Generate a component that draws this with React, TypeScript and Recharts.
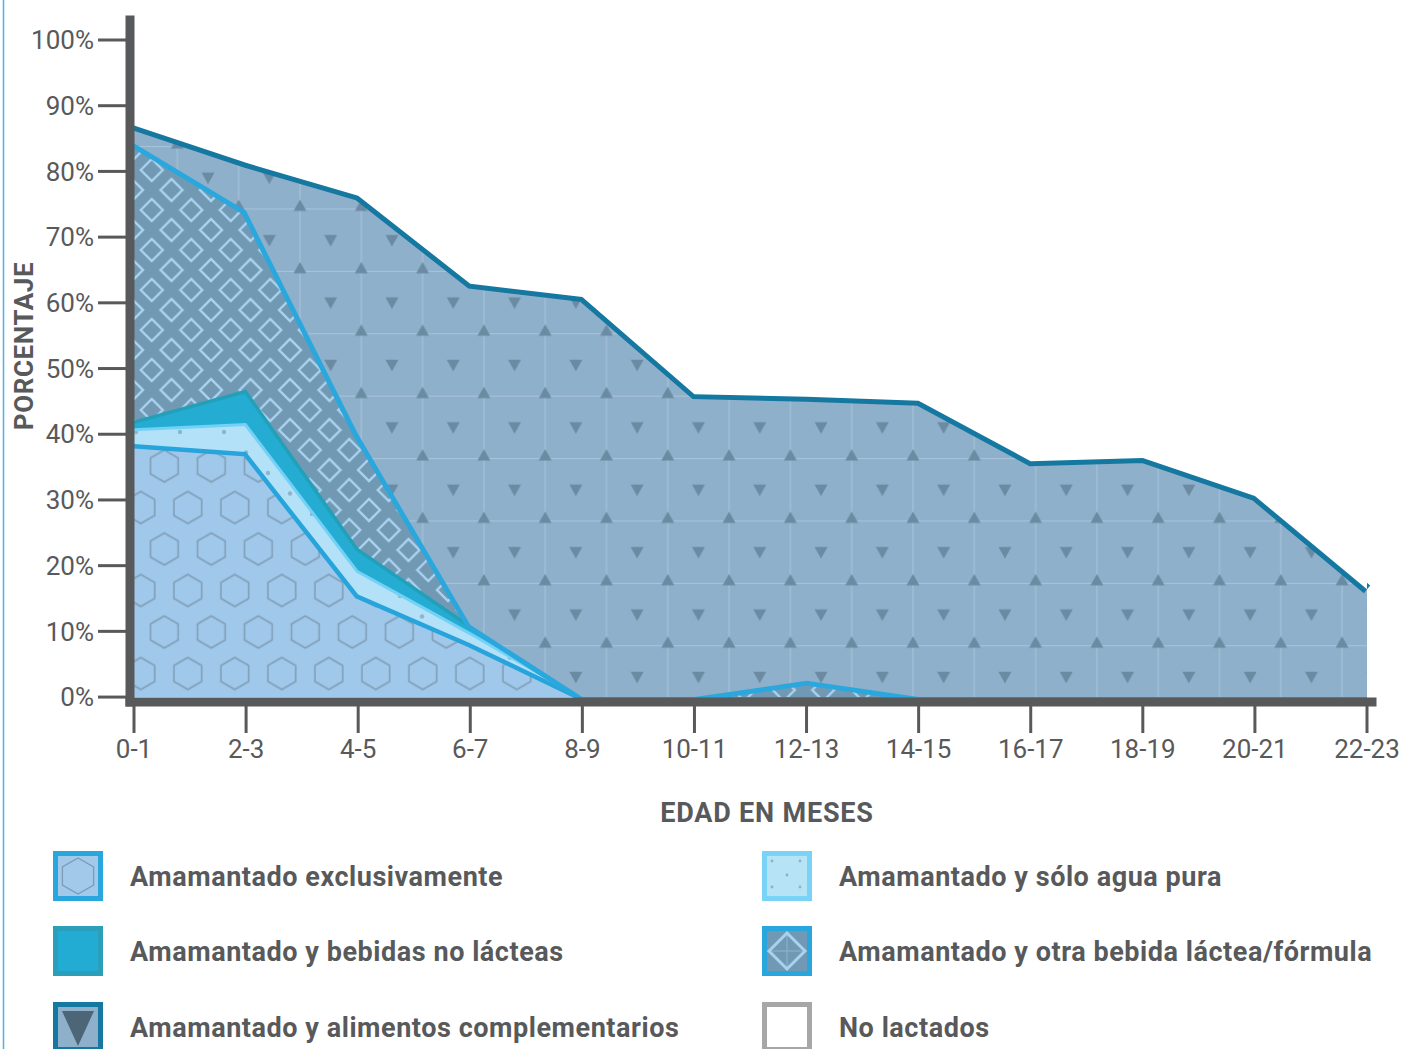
import React from 'react'
import { Area, AreaChart, XAxis, YAxis } from 'recharts'

const ages = ['0-1', '2-3', '4-5', '6-7', '8-9', '10-11', '12-13', '14-15', '16-17', '18-19', '20-21', '22-23']

// percentages per age band, bottom of the stack first
const exclusivo = [38.5, 37.3, 15.6, 8.2, 0, 0, 0, 0, 0, 0, 0, 0]
const soloAgua = [2.4, 4.4, 3.7, 1.7, 0, 0, 0, 0, 0, 0, 0, 0]
const noLacteas = [1.2, 5.1, 3.4, 1.1, 0, 0, 0, 0, 0, 0, 0, 0]
const formula = [42.2, 27.2, 17.3, 0, 0, 0, 2.5, 0, 0, 0, 0, 0]
const complementarios = [2.7, 7.3, 36.3, 51.9, 60.9, 46.1, 43.2, 45.1, 35.9, 36.4, 30.6, 16.4]
const noLactados = [13, 18.7, 23.7, 37.1, 39.1, 53.9, 54.3, 54.9, 64.1, 63.6, 69.4, 83.6]

const yTicks = [0, 10, 20, 30, 40, 50, 60, 70, 80, 90, 100]

const data = ages.map((age, i) => ({
  age,
  exclusivo: exclusivo[i],
  soloAgua: soloAgua[i],
  noLacteas: noLacteas[i],
  formula: formula[i],
  complementarios: complementarios[i],
  noLactados: noLactados[i],
}))

const GREY = '#58595b'
const FONT = 'Roboto, "Liberation Sans", sans-serif'

const hexPoints = (cx: number, cy: number, r: number) =>
  [0, 1, 2, 3, 4, 5]
    .map((k) => {
      const a = (Math.PI / 3) * k - Math.PI / 2
      return `${cx + r * Math.cos(a)},${cy + r * Math.sin(a)}`
    })
    .join(' ')

const up = (cx: number, cy: number) => `${cx},${cy - 6.5} ${cx - 6.5},${cy + 5} ${cx + 6.5},${cy + 5}`
const down = (cx: number, cy: number) => `${cx - 6.5},${cy - 5} ${cx + 6.5},${cy - 5} ${cx},${cy + 6.5}`
const diamond = (cx: number, cy: number, h: number) => `${cx - h},${cy} ${cx},${cy - h} ${cx + h},${cy} ${cx},${cy + h}`

function Patterns() {
  const TW = 61.3
  const TH = 62.4
  return (
    <svg width={0} height={0} style={{ position: 'absolute' }}>
      <defs>
        <pattern id="pat-hex" patternUnits="userSpaceOnUse" x={140.8} y={424.5} width={47} height={83}>
          <rect width={47} height={83} fill="#a0c8ea" />
          {[[0, 0], [47, 0], [0, 83], [47, 83], [23.5, 41.5]].map(([cx, cy], i) => (
            <polygon key={i} points={hexPoints(cx, cy, 16)} fill="none" stroke="#809fb7" strokeWidth={1.6} />
          ))}
        </pattern>
        <pattern id="pat-dots" patternUnits="userSpaceOnUse" x={180} y={432} width={44} height={41}>
          <rect width={44} height={41} fill="#b3e1f7" />
          <circle cx={0} cy={0} r={2.2} fill="#8fb5ca" />
          <circle cx={44} cy={0} r={2.2} fill="#8fb5ca" />
          <circle cx={0} cy={41} r={2.2} fill="#8fb5ca" />
          <circle cx={44} cy={41} r={2.2} fill="#8fb5ca" />
          <circle cx={22} cy={20.5} r={2.2} fill="#8fb5ca" />
        </pattern>
        <pattern id="pat-diamond" patternUnits="userSpaceOnUse" x={132} y={350} width={39.5} height={40}>
          <rect width={39.5} height={40} fill="#7199b3" />
          {[[0, 0], [39.5, 0], [0, 40], [39.5, 40], [19.75, 20]].map(([cx, cy], i) => (
            <polygon key={i} points={diamond(cx, cy, 11)} fill="none" stroke="#a8d2ef" strokeWidth={2.4} />
          ))}
        </pattern>
        <pattern id="pat-tri" patternUnits="userSpaceOnUse" x={269.35} y={174.8} width={TW} height={TH}>
          <rect width={TW} height={TH} fill="#8fb0cb" />
          <line x1={TW / 2} y1={0} x2={TW / 2} y2={TH} stroke="#a9c4da" strokeWidth={1} />
          <line x1={0} y1={TH / 2 + 3} x2={TW} y2={TH / 2 + 3} stroke="#a9c4da" strokeWidth={1} />
          <polygon points={up(TW / 2, TH / 2)} fill="#6b8ba3" />
          {[[0, 2.8], [TW, 2.8], [0, 2.8 + TH], [TW, 2.8 + TH]].map(([cx, cy], i) => (
            <polygon key={i} points={down(cx, cy)} fill="#6b8ba3" />
          ))}
        </pattern>
      </defs>
    </svg>
  )
}

type Swatch = 'hex' | 'teal' | 'tri' | 'dots' | 'diamond' | 'empty'

const legendItems: { label: string; kind: Swatch; x: number; y: number }[] = [
  { label: 'Amamantado exclusivamente', kind: 'hex', x: 53, y: 851 },
  { label: 'Amamantado y bebidas no lácteas', kind: 'teal', x: 53, y: 926 },
  { label: 'Amamantado y alimentos complementarios', kind: 'tri', x: 53, y: 1002 },
  { label: 'Amamantado y sólo agua pura', kind: 'dots', x: 762, y: 851 },
  { label: 'Amamantado y otra bebida láctea/fórmula', kind: 'diamond', x: 762, y: 926 },
  { label: 'No lactados', kind: 'empty', x: 762, y: 1002 },
]

function SwatchBox({ kind, x, y }: { kind: Swatch; x: number; y: number }) {
  const border: Record<Swatch, string> = {
    hex: '#29a6dd',
    teal: '#2b9fba',
    tri: '#1478a1',
    dots: '#78d3f7',
    diamond: '#29a6dd',
    empty: '#a7a7a7',
  }
  const inner: Record<Swatch, string> = {
    hex: '#a2c9ea',
    teal: '#23acd3',
    tri: '#8fb0cb',
    dots: '#b7e3f7',
    diamond: '#7199b3',
    empty: '#ffffff',
  }
  return (
    <g transform={`translate(${x},${y})`}>
      <rect x={0} y={0} width={50} height={50} fill={border[kind]} />
      <rect x={5} y={5} width={40} height={40} fill={inner[kind]} />
      {kind === 'hex' && <polygon points={hexPoints(25, 25, 18)} fill="none" stroke="#7d9cb4" strokeWidth={1.3} />}
      {kind === 'tri' && <polygon points="9,9 41,9 25,44" fill="#4c6678" />}
      {kind === 'diamond' && (
        <>
          <line x1={25} y1={5} x2={25} y2={45} stroke="#8fb5cc" strokeWidth={1} />
          <line x1={5} y1={25} x2={45} y2={25} stroke="#8fb5cc" strokeWidth={1} />
          <polygon points={diamond(25, 25, 18)} fill="none" stroke="#a8d2ef" strokeWidth={3} />
        </>
      )}
      {kind === 'dots' &&
        [[10, 10], [38, 10], [25, 24], [10, 36], [38, 36]].map(([cx, cy], i) => (
          <circle key={i} cx={cx} cy={cy} r={1.4} fill="#8fb0c3" />
        ))}
    </g>
  )
}

function Overlay() {
  return (
    <svg width={1403} height={1049} style={{ position: 'absolute', left: 0, top: 0, pointerEvents: 'none' }}>
      <line x1={3.5} y1={0} x2={3.5} y2={1049} stroke="#4ab4e4" strokeWidth={1.5} />
      <text x={767} y={822} textAnchor="middle" fill={GREY} fontFamily={FONT} fontWeight={700} fontSize={27} letterSpacing={0.8}>
        EDAD EN MESES
      </text>
      <text
        transform="translate(33.3,346) rotate(-90)"
        textAnchor="middle"
        fill={GREY}
        fontFamily={FONT}
        fontWeight={700}
        fontSize={26}
        letterSpacing={0.6}
      >
        PORCENTAJE
      </text>
      {legendItems.map((it) => (
        <g key={it.label}>
          <SwatchBox kind={it.kind} x={it.x} y={it.y} />
          <text x={it.x + 77} y={it.y + 35} fill={GREY} fontFamily={FONT} fontWeight={700} fontSize={27} letterSpacing={0.55}>
            {it.label}
          </text>
        </g>
      ))}
    </svg>
  )
}

export default function App() {
  return (
    <div style={{ position: 'absolute', left: 0, top: 0, width: 1403, height: 1049, background: '#fff' }}>
      <Patterns />
      <AreaChart width={1403} height={780} data={data} margin={{ top: 20, right: 31, left: 0, bottom: 18 }}>
        <Area type="linear" dataKey="exclusivo" stackId="s" fill="url(#pat-hex)" fillOpacity={1} stroke="#27a4dc" strokeWidth={9} dot={false} activeDot={false} isAnimationActive={false} />
        <Area type="linear" dataKey="soloAgua" stackId="s" fill="url(#pat-dots)" fillOpacity={1} stroke="#74d1f6" strokeWidth={6} dot={false} activeDot={false} isAnimationActive={false} />
        <Area type="linear" dataKey="noLacteas" stackId="s" fill="#24acd2" fillOpacity={1} stroke="#22a0ba" strokeWidth={7} dot={false} activeDot={false} isAnimationActive={false} />
        <Area type="linear" dataKey="formula" stackId="s" fill="url(#pat-diamond)" fillOpacity={1} stroke="#2aa8de" strokeWidth={10} dot={false} activeDot={false} isAnimationActive={false} />
        <Area type="linear" dataKey="complementarios" stackId="s" fill="url(#pat-tri)" fillOpacity={1} stroke="#1478a0" strokeWidth={10} dot={false} activeDot={false} isAnimationActive={false} />
        <Area type="linear" dataKey="noLactados" stackId="s" fill="#ffffff" fillOpacity={1} stroke="none" dot={false} activeDot={false} isAnimationActive={false} />
        <XAxis
          dataKey="age"
          height={60}
          interval={0}
          padding={{ left: 4, right: 5 }}
          tickSize={31}
          tickMargin={7}
          tickLine={{ stroke: GREY, strokeWidth: 3 }}
          axisLine={{ stroke: GREY, strokeWidth: 9, strokeLinecap: 'square' }}
          tick={{ fill: GREY, fontSize: 26, fontFamily: FONT }}
        />
        <YAxis
          type="number"
          width={130}
          domain={[-0.75, 100]}
          ticks={yTicks}
          tickFormatter={(v: number) => `${v}%`}
          padding={{ top: 20 }}
          tickSize={32}
          tickMargin={4}
          tickLine={{ stroke: GREY, strokeWidth: 3 }}
          axisLine={{ stroke: GREY, strokeWidth: 9, strokeLinecap: 'square' }}
          tick={{ fill: GREY, fontSize: 26, fontFamily: FONT }}
        />
      </AreaChart>
      <Overlay />
    </div>
  )
}
